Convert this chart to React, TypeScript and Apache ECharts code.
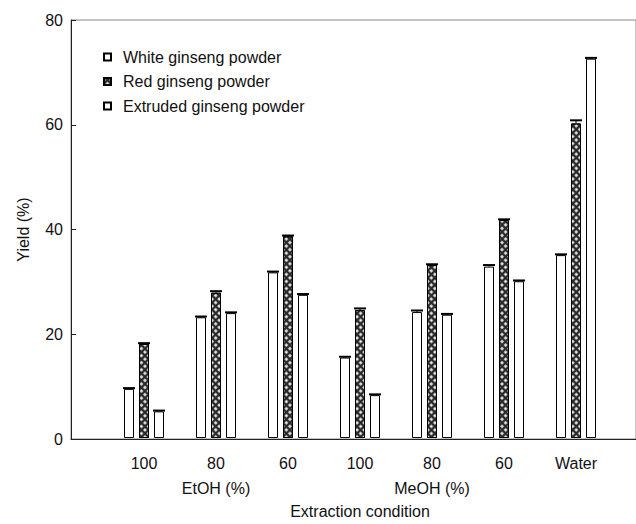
import React, { useEffect, useRef } from "react";
import * as echarts from "echarts";

const conditions = ["100", "80", "60", "100", "80", "60", "Water"];
const solventLabels = ["", "EtOH (%)", "", "", "MeOH (%)", "", ""];
const seriesNames = ["White ginseng powder", "Red ginseng powder", "Extruded ginseng powder"];
const whiteYield = [9.4, 23.1, 31.7, 15.4, 24.1, 32.8, 35.0];
const redYield = [18.0, 27.8, 38.6, 24.5, 33.1, 41.7, 60.2];
const extrudedYield = [5.1, 23.9, 27.4, 8.2, 23.6, 30.0, 72.6];
const whiteErr = [0.15, 0.15, 0.15, 0.15, 0.3, 0.3, 0.15];
const redErr = [0.15, 0.3, 0.15, 0.3, 0.15, 0.15, 0.6];
const extrudedErr = [0.15, 0.15, 0.15, 0.15, 0.15, 0.15, 0.15];
const yTicks = { min: 0, max: 80, interval: 20 };

const FONT = "'Liberation Sans', Arial, Helvetica, sans-serif";
const TXT = "#111";
const FS = 16;

export default function App() {
  const ref = useRef<HTMLDivElement>(null);
  useEffect(() => {
    if (!ref.current) return;
    const chart = echarts.init(ref.current, null, { renderer: "svg" });
    const values = [whiteYield, redYield, extrudedYield];
    const errs = [whiteErr, redErr, extrudedErr];
    const errData: number[][] = [];
    values.forEach((arr, s) =>
      arr.forEach((v, i) => errData.push([i, v, errs[s][i], s]))
    );
    const hatch = {
      symbol: "rect",
      symbolSize: 0.85,
      color: "#ffffff",
      dashArrayX: [2.4, 1.1],
      dashArrayY: [2.4, 1.1],
      rotation: Math.PI / 4,
    };
    const barBase = {
      type: "bar",
      xAxisIndex: 1,
      yAxisIndex: 1,
      barWidth: 10,
      barGap: "50%",
    };
    chart.setOption({
      animation: false,
      backgroundColor: "#fff",
      textStyle: { fontFamily: FONT },
      grid: [
        { left: 71, top: 20, right: -12, bottom: 85, show: true, borderColor: "#888", borderWidth: 1, backgroundColor: "transparent" },
        { left: 108, width: 504, top: 20, bottom: 85 },
      ],
      legend: {
        left: 103,
        top: 49,
        orient: "vertical",
        padding: 0,
        itemWidth: 7,
        itemHeight: 7,
        itemGap: 8.5,
        icon: "rect",
        data: seriesNames,
        textStyle: { fontSize: FS, color: TXT, fontFamily: FONT, padding: [0, 0, 0, 7] },
      },
      xAxis: [
        {
          gridIndex: 0,
          type: "value",
          min: 0,
          max: 1,
          axisLine: { show: true, lineStyle: { color: "#222", width: 1 } },
          axisTick: { show: false },
          axisLabel: { show: false },
          splitLine: { show: false },
        },
        {
          gridIndex: 1,
          type: "category",
          data: conditions,
          axisLine: { show: false },
          axisTick: { show: false },
          axisLabel: { interval: 0, margin: 17, fontSize: FS, color: TXT, fontFamily: FONT },
        },
        {
          gridIndex: 1,
          type: "category",
          data: solventLabels,
          position: "bottom",
          offset: 25,
          axisLine: { show: false },
          axisTick: { show: false },
          axisLabel: { interval: 0, margin: 17, fontSize: FS, color: TXT, fontFamily: FONT },
          name: "Extraction condition",
          nameLocation: "middle",
          nameGap: 40,
          nameTextStyle: { fontSize: FS, color: TXT, fontFamily: FONT },
        },
      ],
      yAxis: [
        {
          gridIndex: 0,
          type: "value",
          ...yTicks,
          axisLine: { show: true, lineStyle: { color: "#222", width: 1 } },
          axisTick: { show: true, inside: true, length: 5, lineStyle: { color: "#222" } },
          axisLabel: { margin: 8, fontSize: FS, color: TXT, fontFamily: FONT },
          splitLine: { show: false },
          name: "Yield (%)",
          nameLocation: "middle",
          nameGap: 40,
          nameRotate: 90,
          nameTextStyle: { fontSize: FS, color: TXT, fontFamily: FONT },
        },
        { gridIndex: 1, type: "value", ...yTicks, show: false },
      ],
      series: [
        {
          ...barBase,
          name: seriesNames[0],
          data: whiteYield,
          itemStyle: { color: "#fff", borderColor: "#000", borderWidth: 1 },
        },
        {
          ...barBase,
          name: seriesNames[1],
          data: redYield,
          itemStyle: { color: "#2a2a2a", borderColor: "#000", borderWidth: 1, decal: hatch },
        },
        {
          ...barBase,
          name: seriesNames[2],
          data: extrudedYield,
          itemStyle: { color: "#fff", borderColor: "#000", borderWidth: 1 },
        },
        {
          type: "custom",
          xAxisIndex: 1,
          yAxisIndex: 1,
          silent: true,
          encode: { x: 0, y: 1 },
          data: errData,
          renderItem: (params: any, api: any) => {
            const idx = api.value(0);
            const base = api.value(1);
            const top = base + api.value(2);
            const s = api.value(3);
            const p0 = api.coord([idx, base]);
            const p1 = api.coord([idx, top]);
            const x = p1[0] + (s - 1) * 15;
            return {
              type: "group",
              children: [
                { type: "line", shape: { x1: x, y1: p0[1], x2: x, y2: p1[1] }, style: { stroke: "#000", lineWidth: 1 } },
                { type: "line", shape: { x1: x - 6, y1: p1[1], x2: x + 6, y2: p1[1] }, style: { stroke: "#000", lineWidth: 2 } },
              ],
            };
          },
          z: 3,
        },
      ],
    });
    return () => chart.dispose();
  }, []);
  return <div ref={ref} style={{ width: 636, height: 524, position: "absolute", left: 0, top: 0 }} />;
}
